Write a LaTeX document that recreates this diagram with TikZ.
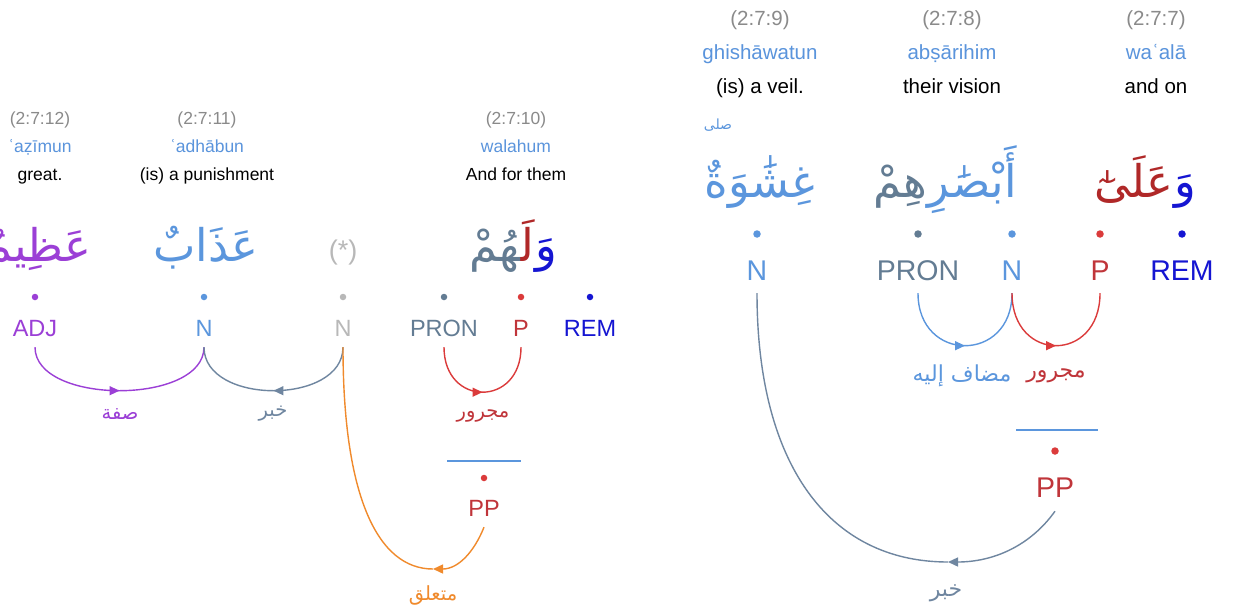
\documentclass[tikz,border=0pt]{standalone}
\usepackage{fontspec}
\setmainfont{Liberation Sans}
\newfontfamily\arabicfont[Script=Arabic]{DejaVu Sans}
\TeXXeTstate=1
\usetikzlibrary{arrows.meta,decorations.markings}
\definecolor{hdr}{HTML}{8A8A8A}
\definecolor{trl}{HTML}{5A94DC}
\definecolor{cadj}{HTML}{9B3FD6}
\definecolor{cn}{HTML}{5B96DD}
\definecolor{cgr}{HTML}{B8B8B8}
\definecolor{cpron}{HTML}{637C93}
\definecolor{cpd}{HTML}{DB3B3B}
\definecolor{cpt}{HTML}{C0353A}
\definecolor{cpa}{HTML}{B02828}
\definecolor{crem}{HTML}{1515D2}
\definecolor{corg}{HTML}{F08A2C}
\definecolor{crel}{HTML}{6F86A0}
\newcommand\fsA{\fontsize{17.5}{20}\selectfont}
\newcommand\fsB{\fontsize{20.5}{24}\selectfont}
\newcommand\fsPL{\fontsize{23.5}{26}\selectfont}
\newcommand\fsPR{\fontsize{28.5}{32}\selectfont}
\newcommand\fsWL{\fontsize{45}{50}\arabicfont}
\newcommand\fsWR{\fontsize{45}{50}\arabicfont}
\newcommand\fsRL{\fontsize{19.5}{22}\arabicfont}
\newcommand\fsRR{\fontsize{22}{26}\arabicfont}
\newcommand\zj{\char"200D\relax}
\begin{document}
\begin{tikzpicture}[x=1pt,y=-1pt,
  infoL/.style={inner sep=0pt, text height=12.6pt, text depth=3.5pt, font=\fsA},
  infoR/.style={inner sep=0pt, text height=14.8pt, text depth=4.1pt, font=\fsB},
  posL/.style={inner xsep=0pt, inner ysep=11pt, text depth=0pt, anchor=base, font=\fsPL},
  posR/.style={inner xsep=0pt, inner ysep=13pt, text depth=0pt, anchor=base, font=\fsPR},
  dotL/.style={circle, inner sep=0pt, minimum size=6.5pt},
  dotR/.style={circle, inner sep=0pt, minimum size=7.5pt},
  word/.style={inner sep=0pt, anchor=base},
  seg/.style={inner sep=0pt, anchor=base east},
  rel/.style={inner sep=0pt},
  arc/.style={line width=1.4pt},
  midarrow/.style={postaction={decorate}, decoration={markings,
     mark=at position 0.5 with {\arrow{Triangle[length=10pt,width=9pt]}}}},
  endarrow/.style={-{Triangle[length=10pt,width=9pt]}}
]
\useasboundingbox (0,0) rectangle (1233,613);
\fill[white] (0,0) rectangle (1233,613);

% ---------- left verse part : headers ----------
\node[infoL,text=hdr] (h12) at (40,120) {(2:7:12)};
\node[infoL,text=trl] (t12) at (40,148) {ʿaẓīmun};
\node[infoL,text=black] (e12) at (40,176) {great.};
\node[infoL,text=hdr] (h11) at (207,120) {(2:7:11)};
\node[infoL,text=trl] (t11) at (207,148) {ʿadhābun};
\node[infoL,text=black] (e11) at (207,176) {(is) a punishment};
\node[infoL,text=hdr] (h10) at (516,120) {(2:7:10)};
\node[infoL,text=trl] (t10) at (516,148) {walahum};
\node[infoL,text=black] (e10) at (516,176) {And for them};

% ---------- left arabic words ----------
\node[word,font=\fsWL,text=cadj] (w12) at (38,261) {عَظِيمٌ};
\node[word,font=\fsWL,text=cn] (w11) at (206,261) {عَذَابٌ};
\node[inner sep=0pt,font=\fontsize{27}{30}\selectfont,text=cgr] (wst) at (343,253) {(*)};
\node[seg,font=\fsWL,text=crem] (w10a) at (557,261) {وَ};
\node[seg,font=\fsWL,text=cpa] (w10b) at (w10a.base west) {لَ\zj};
\node[seg,font=\fsWL,text=cpron] (w10c) at (w10b.base west) {\zj هُمْ};

% ---------- left dots and POS tags ----------
\node[dotL,fill=cadj] (dadj) at (35,297) {};
\node[dotL,fill=cn] (dnb) at (204,297) {};
\node[dotL,fill=cgr] (dng) at (343,297) {};
\node[dotL,fill=cpron] (dpron) at (444,297) {};
\node[dotL,fill=cpd] (dp) at (521,297) {};
\node[dotL,fill=crem] (drem) at (590,297) {};
\node[posL,text=cadj] (adj) at (35,336) {ADJ};
\node[posL,text=cn] (nb) at (204,336) {N};
\node[posL,text=cgr] (ng) at (343,336) {N};
\node[posL,text=cpron] (pron) at (444,336) {PRON};
\node[posL,text=cpt] (p) at (521,336) {P};
\node[posL,text=crem] (rem) at (590,336) {REM};

% ---------- left arcs ----------
\draw[arc,cadj,midarrow] (adj.south) .. controls +(0,58) and +(0,58) .. (nb.south);
\draw[arc,crel,midarrow] (ng.south) .. controls +(0,58) and +(0,58) .. (nb.south);
\draw[arc,cpd,midarrow] (pron.south) .. controls +(0,60) and +(0,60) .. (p.south);
\node[rel,font=\fsRL,text=cadj] (rs) at (120,414) {\beginR صفة\endR};
\node[rel,font=\fsRL,text=crel] (rk) at (273,414) {\beginR خبر\endR};
\node[rel,font=\fsRL,text=cpt] (rm) at (483,416) {\beginR مجرور\endR};

% ---------- left PP ----------
\draw[cn,line width=1.3pt] (447,461) -- (521,461);
\node[dotL,fill=cpd] (dppl) at (484,478) {};
\node[posL,text=cpt,inner ysep=11pt] (ppl) at (484,516) {PP};
\coordinate (ob) at (433,569);
\draw[arc,corg,endarrow] (ppl.south) .. controls +(-10,25) and +(25,0) .. (ob);
\draw[arc,corg] (ob) .. controls +(-55,0) and +(0,150) .. (ng.south);
\node[rel,font=\fsRL,text=corg] (rt) at (433,595) {\beginR متعلق\endR};

% ---------- right verse part : headers ----------
\node[infoR,text=hdr] (h9) at (760,20) {(2:7:9)};
\node[infoR,text=trl] (t9) at (760,54) {ghishāwatun};
\node[infoR,text=black] (e9) at (760,88) {(is) a veil.};
\node[infoR,text=hdr] (h8) at (952,20) {(2:7:8)};
\node[infoR,text=trl] (t8) at (952,54) {abṣārihim};
\node[infoR,text=black] (e8) at (952,88) {their vision};
\node[infoR,text=hdr] (h7) at (1156,20) {(2:7:7)};
\node[infoR,text=trl] (t7) at (1156,54) {waʿalā};
\node[infoR,text=black] (e7) at (1156,88) {and on};

% ---------- right arabic words ----------
\node[word,font=\fsWR,text=cn] (w9) at (760,197) {غِشَٰوَةٌ};
\node[inner sep=0pt,font=\fontsize{14}{15}\arabicfont,text=cn] (w9m) at (718,125) {صلى};
\node[seg,font=\fsWR,text=cn] (w8a) at (1017,197) {أَبْصَٰرِ};
\node[seg,font=\fsWR,text=cpron] (w8b) at (w8a.base west) {هِمْ};
\node[seg,font=\fsWR,text=crem] (w7a) at (1196,197) {وَ};
\node[seg,font=\fsWR,text=cpa] (w7b) at (w7a.base west) {عَلَىٰٓ};

% ---------- right dots and POS tags ----------
\node[dotR,fill=cn] (dn9) at (757,234) {};
\node[dotR,fill=cpron] (dpr8) at (918,234) {};
\node[dotR,fill=cn] (dn8) at (1012,234) {};
\node[dotR,fill=cpd] (dp7) at (1100,234) {};
\node[dotR,fill=crem] (drem7) at (1182,234) {};
\node[posR,text=cn] (n9) at (757,280) {N};
\node[posR,text=cpron] (pr8) at (918,280) {PRON};
\node[posR,text=cn] (n8) at (1012,280) {N};
\node[posR,text=cpt] (p7) at (1100,280) {P};
\node[posR,text=crem] (rem7) at (1182,280) {REM};

% ---------- right arcs ----------
\draw[arc,cn,midarrow] (pr8.south) .. controls +(0,70) and +(0,70) .. (n8.south);
\draw[arc,cpd,midarrow] (n8.south) .. controls +(0,70) and +(0,70) .. (p7.south);
\node[rel,font=\fsRR,text=cn] (rmi) at (962,376) {\beginR مضاف إليه\endR};
\node[rel,font=\fsRR,text=cpt] (rmj) at (1056,376) {\beginR مجرور\endR};

% ---------- right PP ----------
\draw[cn,line width=1.3pt] (1016,430) -- (1098,430);
\node[dotR,fill=cpd] (dppr) at (1055,451) {};
\node[posR,text=cpt,inner ysep=14pt] (ppr) at (1055,497) {PP};
\coordinate (gb) at (948,562);
\draw[arc,crel,endarrow] (ppr.south) .. controls +(-25,35) and +(45,0) .. (gb);
\draw[arc,crel] (gb) .. controls +(-120,0) and +(0,170) .. (n9.south);
\node[rel,font=\fsRR,text=crel] (rk2) at (946,593) {\beginR خبر\endR};
\end{tikzpicture}
\end{document}
